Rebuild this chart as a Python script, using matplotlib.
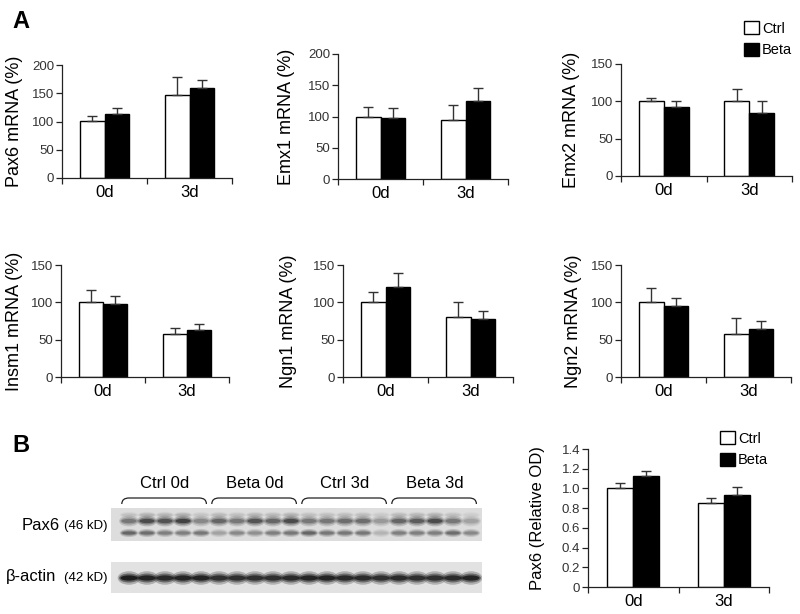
import matplotlib as mpl
import matplotlib.pyplot as plt
import numpy as np
from matplotlib.patches import Ellipse, PathPatch, Patch
from matplotlib.path import Path

mpl.use("Agg")

plt.rcParams["font.family"] = ["Liberation Sans", "DejaVu Sans"]

W, H = 800, 614

days = ["0d", "3d"]

# panel A: qPCR, % of control, mean and upward SEM
pax6_ctrl = [101, 147]
pax6_ctrl_err = [8, 32]
pax6_beta = [114, 159]
pax6_beta_err = [10, 15]

emx1_ctrl = [99, 94]
emx1_ctrl_err = [17, 25]
emx1_beta = [97, 125]
emx1_beta_err = [16, 20]

emx2_ctrl = [100, 100]
emx2_ctrl_err = [4, 16]
emx2_beta = [93, 85]
emx2_beta_err = [7, 15]

insm1_ctrl = [100, 57]
insm1_ctrl_err = [17, 8]
insm1_beta = [98, 63]
insm1_beta_err = [10, 8]

ngn1_ctrl = [100, 80]
ngn1_ctrl_err = [14, 20]
ngn1_beta = [120, 78]
ngn1_beta_err = [19, 11]

ngn2_ctrl = [100, 58]
ngn2_ctrl_err = [19, 21]
ngn2_beta = [95, 64]
ngn2_beta_err = [11, 11]

# panel B: densitometry
od_ctrl = [1.00, 0.85]
od_ctrl_err = [0.06, 0.05]
od_beta = [1.13, 0.93]
od_beta_err = [0.05, 0.08]
od_ticks = [0, 0.2, 0.4, 0.6, 0.8, 1.0, 1.2, 1.4]
od_tick_labels = ["0", "0.2", "0.4", "0.6", "0.8", "1.0", "1.2", "1.4"]

# western blot lanes (band darkness 0..1, read by eye)
blot_groups = ["Ctrl 0d", "Beta 0d", "Ctrl 3d", "Beta 3d"]
pax6_upper = [0.60, 0.85, 0.80, 0.90, 0.50,
              0.70, 0.60, 0.80, 0.70, 0.85,
              0.60, 0.60, 0.65, 0.65, 0.40,
              0.70, 0.75, 0.85, 0.60, 0.35]
pax6_lower = [0.70, 0.65, 0.55, 0.55, 0.60,
              0.35, 0.50, 0.45, 0.55, 0.60,
              0.70, 0.60, 0.60, 0.60, 0.25,
              0.55, 0.55, 0.55, 0.65, 0.50]
actin_band = [1.00, 0.95, 0.90, 0.95, 0.95,
              0.85, 0.85, 0.85, 0.85, 0.90,
              0.95, 0.95, 0.90, 0.90, 0.85,
              0.90, 0.85, 0.85, 0.90, 0.95]

BAR_W = 0.29
AX_COL = "#222222"


def px_axes(fig, left, right, y_zero, y_top):
    return fig.add_axes([left / W, 1 - y_zero / H, (right - left) / W, (y_zero - y_top) / H])


def bar_panel(ax, ctrl, ctrl_err, beta, beta_err, ymax, ticks, ylabel, label_off, tick_labels=None):
    x = np.arange(len(days))
    ax.bar(x - BAR_W / 2, ctrl, BAR_W, color="white", edgecolor="black", linewidth=1.0, zorder=2)
    ax.bar(x + BAR_W / 2, beta, BAR_W, color="black", edgecolor="black", linewidth=1.0, zorder=2)
    for xs, vals, errs in [(x - BAR_W / 2, ctrl, ctrl_err), (x + BAR_W / 2, beta, beta_err)]:
        ax.errorbar(xs, vals, yerr=[np.zeros(len(errs)), errs], fmt="none", ecolor="#333333",
                    elinewidth=1.0, capsize=3.3, capthick=1.0, zorder=3)
    ax.set_xlim(-0.5, 1.5)
    ax.set_ylim(0, ymax)
    for s in ["top", "right"]:
        ax.spines[s].set_visible(False)
    for s in ["left", "bottom"]:
        ax.spines[s].set_color(AX_COL)
        ax.spines[s].set_linewidth(0.9)
    ax.set_yticks(ticks)
    if tick_labels is not None:
        ax.set_yticklabels(tick_labels)
    ax.tick_params(axis="y", direction="out", length=4, width=0.9, color=AX_COL,
                   labelsize=9.5, labelcolor="#333333", pad=1.5)
    ax.set_xticks(x)
    ax.set_xticklabels(days)
    ax.set_xticks([-0.5, 0.5, 1.5], minor=True)
    ax.tick_params(axis="x", which="major", length=0, labelsize=12, pad=5)
    ax.tick_params(axis="x", which="minor", direction="out", length=4, width=0.9, color=AX_COL)
    ax.set_ylabel(ylabel, fontsize=13)
    bbox_w = ax.get_position().width * W
    ax.yaxis.set_label_coords(-label_off / bbox_w, 0.5)


fig = plt.figure(figsize=(W / 100, H / 100), dpi=100)

over = fig.add_axes([0, 0, 1, 1])
over.set_xlim(0, W)
over.set_ylim(H, 0)
over.axis("off")
over.text(12, 28, "A", fontsize=17, fontweight="bold", ha="left", va="baseline")
over.text(12, 452, "B", fontsize=17, fontweight="bold", ha="left", va="baseline")

ax1 = px_axes(fig, 62, 232, 178, 65)
bar_panel(ax1, pax6_ctrl, pax6_ctrl_err, pax6_beta, pax6_beta_err, 200, [0, 50, 100, 150, 200],
          "Pax6 mRNA (%)", 39)
ax2 = px_axes(fig, 338, 508, 179, 54)
bar_panel(ax2, emx1_ctrl, emx1_ctrl_err, emx1_beta, emx1_beta_err, 200, [0, 50, 100, 150, 200],
          "Emx1 mRNA (%)", 43)
ax3 = px_axes(fig, 621, 792, 176, 64)
bar_panel(ax3, emx2_ctrl, emx2_ctrl_err, emx2_beta, emx2_beta_err, 150, [0, 50, 100, 150],
          "Emx2 mRNA (%)", 41)
ax4 = px_axes(fig, 61, 229, 377, 265)
bar_panel(ax4, insm1_ctrl, insm1_ctrl_err, insm1_beta, insm1_beta_err, 150, [0, 50, 100, 150],
          "Insm1 mRNA (%)", 38)
ax5 = px_axes(fig, 343, 513, 377, 265)
bar_panel(ax5, ngn1_ctrl, ngn1_ctrl_err, ngn1_beta, ngn1_beta_err, 150, [0, 50, 100, 150],
          "Ngn1 mRNA (%)", 46)
ax6 = px_axes(fig, 621, 791, 377, 265)
bar_panel(ax6, ngn2_ctrl, ngn2_ctrl_err, ngn2_beta, ngn2_beta_err, 150, [0, 50, 100, 150],
          "Ngn2 mRNA (%)", 39)
axb = px_axes(fig, 588, 769, 587, 449)
bar_panel(axb, od_ctrl, od_ctrl_err, od_beta, od_beta_err, 1.4, od_ticks,
          "Pax6 (Relative OD)", 43, od_tick_labels)
axb.yaxis.label.set_fontsize(12)

handles = [Patch(facecolor="white", edgecolor="black", linewidth=1.0),
           Patch(facecolor="black", edgecolor="black", linewidth=1.0)]
for anchor in [(744, 21), (720, 431)]:
    fig.legend(handles, ["Ctrl", "Beta"], loc="upper left",
               bbox_to_anchor=(anchor[0] / W, 1 - anchor[1] / H), frameon=False,
               fontsize=10.5, handlelength=1.0, handleheight=1.0, labelspacing=0.5,
               handletextpad=0.25, borderpad=0, borderaxespad=0)

# western blot strips
LANE_PX = 18.0
BLOT_L, BLOT_R = 111, 482
lanes = np.arange(1, len(pax6_upper) + 1)


def blot_axes(top, bottom, shade):
    ax = fig.add_axes([BLOT_L / W, 1 - bottom / H, (BLOT_R - BLOT_L) / W, (bottom - top) / H])
    ax.set_xlim(0, (BLOT_R - BLOT_L) / LANE_PX)
    ax.set_ylim(bottom - top, 0)
    ax.set_facecolor(shade)
    ax.set_xticks([])
    ax.set_yticks([])
    for s in ax.spines.values():
        s.set_visible(False)
    return ax


def draw_bands(ax, y, darkness, width, height, base=0.88, span=0.75):
    for lx, d in zip(lanes, darkness):
        g = base - span * d
        col = (g, g, g)
        for sw, sh, a in [(1.2, 1.8, 0.25), (1.05, 1.2, 0.45), (0.9, 0.7, 0.8)]:
            ax.add_patch(Ellipse((lx, y), width * sw, height * sh, facecolor=col,
                                 edgecolor="none", alpha=a))


bp = blot_axes(508, 541, "#dddddd")
draw_bands(bp, 7, [d * 0.3 for d in pax6_upper], 0.85, 3.5)
draw_bands(bp, 13, pax6_upper, 0.92, 6.0)
draw_bands(bp, 25, pax6_lower, 0.85, 4.5)

ba = blot_axes(562, 593, "#e2e2e2")
draw_bands(ba, 16, actin_band, 1.05, 7.5, base=0.55, span=0.5)

# group brackets and names above the Pax6 strip
for g, name in enumerate(blot_groups):
    x1 = lanes[g * 5] - 0.4
    x2 = lanes[g * 5 + 4] + 0.3
    verts = [(x1, -4), (x1, -10), (x1 + 0.4, -10), (x2 - 0.4, -10), (x2, -10), (x2, -4)]
    codes = [Path.MOVETO, Path.CURVE3, Path.CURVE3, Path.LINETO, Path.CURVE3, Path.CURVE3]
    bp.add_patch(PathPatch(Path(verts, codes), facecolor="none", edgecolor="#222222",
                           linewidth=0.9, clip_on=False))
    bp.text(lanes[g * 5 + 2], -25, name, fontsize=12, ha="center", va="center", clip_on=False)

over.text(22, 525, "Pax6", fontsize=12, ha="left", va="center")
over.text(64, 526, "(46 kD)", fontsize=9.5, ha="left", va="center")
over.text(6, 577, "\u03b2-actin", fontsize=12, ha="left", va="center")
over.text(64, 578, "(42 kD)", fontsize=9.5, ha="left", va="center")

fig.savefig("out.png", dpi=100)
